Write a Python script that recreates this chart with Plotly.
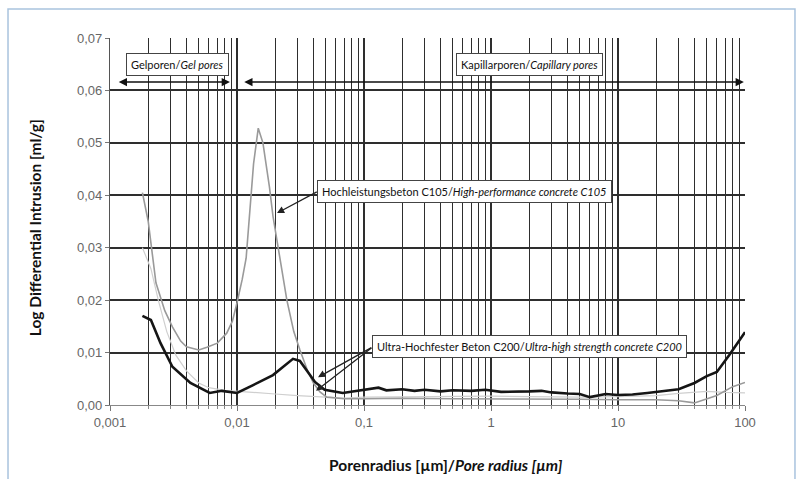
import plotly.graph_objects as go
import math

# ---- data ----
c200_x = [0.0018, 0.0021, 0.0025, 0.0031, 0.0043, 0.0061, 0.0076, 0.010, 0.0134, 0.0192, 0.0276, 0.0313,
          0.0411, 0.049, 0.068, 0.105, 0.13, 0.15, 0.2, 0.25, 0.3, 0.4, 0.5, 0.7, 0.9, 1.2, 1.6, 2.0, 2.5,
          3.0, 4.0, 5.0, 6.0, 7.0, 8.0, 10, 13, 17, 22, 30, 40, 50, 60, 75, 100]
c200_y = [0.0170, 0.0162, 0.0118, 0.0073, 0.0042, 0.0023, 0.0027, 0.0023, 0.0038, 0.0057, 0.0088, 0.0084,
          0.0044, 0.0029, 0.0023, 0.0029, 0.0033, 0.0028, 0.0030, 0.0027, 0.0029, 0.0026, 0.0028, 0.0027,
          0.0029, 0.0025, 0.0025, 0.0026, 0.0027, 0.0024, 0.0022, 0.0021, 0.0015, 0.0019, 0.0021, 0.0019,
          0.0020, 0.0023, 0.0026, 0.0030, 0.0042, 0.0055, 0.0063, 0.0095, 0.0139]

c105_x = [0.0018, 0.0020, 0.0023, 0.0027, 0.0031, 0.0036, 0.0040, 0.0050, 0.0058, 0.0070, 0.0083, 0.0092,
          0.0100, 0.0110, 0.0118, 0.0125, 0.0135, 0.0147, 0.0160, 0.0180, 0.0192, 0.0247, 0.0280, 0.0313,
          0.0360, 0.0400, 0.0450, 0.051, 0.07, 0.1, 0.2, 0.5, 1, 2, 5, 10, 20, 30, 40, 60, 80, 100]
c105_y = [0.0405, 0.0350, 0.0233, 0.0180, 0.0149, 0.0122, 0.0111, 0.0105, 0.0110, 0.0118, 0.0137, 0.0160,
          0.0195, 0.0240, 0.0280, 0.0360, 0.0460, 0.0528, 0.0500, 0.0416, 0.0360, 0.0200, 0.0140, 0.0105,
          0.0065, 0.0042, 0.0025, 0.0015, 0.0012, 0.0012, 0.0013, 0.0012, 0.0012, 0.0011, 0.0011, 0.0010,
          0.0010, 0.0008, 0.0004, 0.0018, 0.0035, 0.0043]

rep_x = [0.0018, 0.0021, 0.0024, 0.0028, 0.0033, 0.004, 0.005, 0.006, 0.008, 0.01, 0.015, 0.02, 0.03,
         0.04, 0.05, 0.07, 0.1, 0.2, 0.5, 1, 2, 5, 10, 20, 30, 40, 50, 70, 100]
rep_y = [0.030, 0.026, 0.020, 0.014, 0.0095, 0.0065, 0.0042, 0.0033, 0.0028, 0.0026, 0.0023, 0.0021, 0.0018,
         0.0016, 0.0014, 0.0013, 0.0015, 0.0016, 0.0016, 0.0017, 0.0016, 0.0015, 0.0016, 0.0018, 0.0022,
         0.0025, 0.0026, 0.0024, 0.0023]

x_tickvals = [0.001, 0.01, 0.1, 1, 10, 100]
x_ticktext = ["0,001", "0,01", "0,1", "1", "10", "100"]
y_tickvals = [0.00, 0.01, 0.02, 0.03, 0.04, 0.05, 0.06, 0.07]

L = math.log10
fig = go.Figure()
fig.add_trace(go.Scatter(x=rep_x, y=rep_y, mode="lines", line=dict(color="#cfcfcf", width=1.2), showlegend=False))
fig.add_trace(go.Scatter(x=c105_x, y=c105_y, mode="lines", line=dict(color="#9a9a9a", width=1.6), showlegend=False))
fig.add_trace(go.Scatter(x=c200_x, y=c200_y, mode="lines", line=dict(color="#151515", width=2.6), showlegend=False))

grid = "#2e2e2e"
fig.update_xaxes(type="log", range=[-3, 2], tickvals=x_tickvals, ticktext=x_ticktext,
                 showgrid=True, gridcolor=grid, gridwidth=1.5, ticks="outside", ticklen=5, tickcolor="#777",
                 showline=True, linecolor="#888", linewidth=1,
                 minor=dict(dtick="D1", showgrid=True, gridcolor=grid, gridwidth=1.3, ticks="outside", ticklen=3, tickcolor="#888"),
                 tickfont=dict(family="Liberation Sans, Arial", size=13, color="#666"), zeroline=False)
fig.update_yaxes(range=[0, 0.07], tickvals=y_tickvals, tickformat=".2f",
                 showgrid=True, gridcolor=grid, gridwidth=2, ticks="outside", ticklen=4, tickcolor="#777",
                 showline=True, linecolor="#555", linewidth=1.2,
                 tickfont=dict(family="Liberation Sans, Arial", size=13, color="#666"), zeroline=False)

ann_font = dict(family="Liberation Sans Narrow, Lato, sans-serif", size=11, color="#111")
annotations = []
# pore-range arrows
annotations.append(dict(x=L(0.0088), y=0.0616, ax=L(0.00114), ay=0.0616, xref="x", yref="y", axref="x", ayref="y",
                        text="", showarrow=True, arrowhead=2, arrowside="end+start", arrowsize=1.1, arrowwidth=1.5, arrowcolor="#111"))
annotations.append(dict(x=L(98), y=0.0616, ax=L(0.0111), ay=0.0616, xref="x", yref="y", axref="x", ayref="y",
                        text="", showarrow=True, arrowhead=2, arrowside="end+start", arrowsize=1.1, arrowwidth=1.5, arrowcolor="#111"))
box = dict(bgcolor="white", bordercolor="#444", borderwidth=1, borderpad=4, font=ann_font, showarrow=False,
           xref="x", yref="y")
annotations.append(dict(x=-2.465, y=0.0649, text="Gelporen/<i>Gel pores</i>", **box))
annotations.append(dict(x=0.307, y=0.0649, text="Kapillarporen/<i>Capillary pores</i>", **box))
# curve labels with arrows
annotations.append(dict(x=-1.685, y=0.0366, ax=-1.36, ay=0.0408, xref="x", yref="y", axref="x", ayref="y",
                        text="", showarrow=True, arrowhead=2, arrowsize=1.1, arrowwidth=1.3, arrowcolor="#222"))
annotations.append(dict(x=-0.205, y=0.0408, text="Hochleistungsbeton C105/<i>High-performance concrete C105</i>", **box))
annotations.append(dict(x=-1.362, y=0.0053, ax=-0.93, ay=0.0111, xref="x", yref="y", axref="x", ayref="y",
                        text="", showarrow=True, arrowhead=2, arrowsize=1.1, arrowwidth=1.3, arrowcolor="#222"))
annotations.append(dict(x=-1.378, y=0.0027, ax=-0.93, ay=0.0111, xref="x", yref="y", axref="x", ayref="y",
                        text="", showarrow=True, arrowhead=2, arrowsize=1.1, arrowwidth=1.3, arrowcolor="#222"))
annotations.append(dict(x=0.307, y=0.0111, text="Ultra-Hochfester Beton C200/<i>Ultra-high strength concrete C200</i>", **box))
# axis titles
title_font = dict(family="Lato, Noto Sans, sans-serif", size=15.5, color="#111")
annotations.append(dict(x=-0.118, y=0.482, xref="paper", yref="paper", textangle=-90, showarrow=False,
                        xanchor="center", yanchor="middle",
                        text="<b>Log Differential Intrusion [ml/g]</b>", font=title_font))
annotations.append(dict(x=0.529, y=-0.163, xref="paper", yref="paper", showarrow=False,
                        xanchor="center", yanchor="middle",
                        text="<b>Porenradius [µm]/<i>Pore radius [µm]</i></b>", font=title_font))

fig.update_layout(
    width=802, height=479, margin=dict(l=110, r=57, t=38, b=74),
    plot_bgcolor="white", paper_bgcolor="white", separators=",.",
    annotations=annotations,
    shapes=[dict(type="rect", xref="paper", yref="paper", x0=-0.1606, x1=1.0787, y0=-0.25, y1=1.079,
                 line=dict(color="#a9c3de", width=1.5), layer="below")],
)
fig.write_html("out.html")
